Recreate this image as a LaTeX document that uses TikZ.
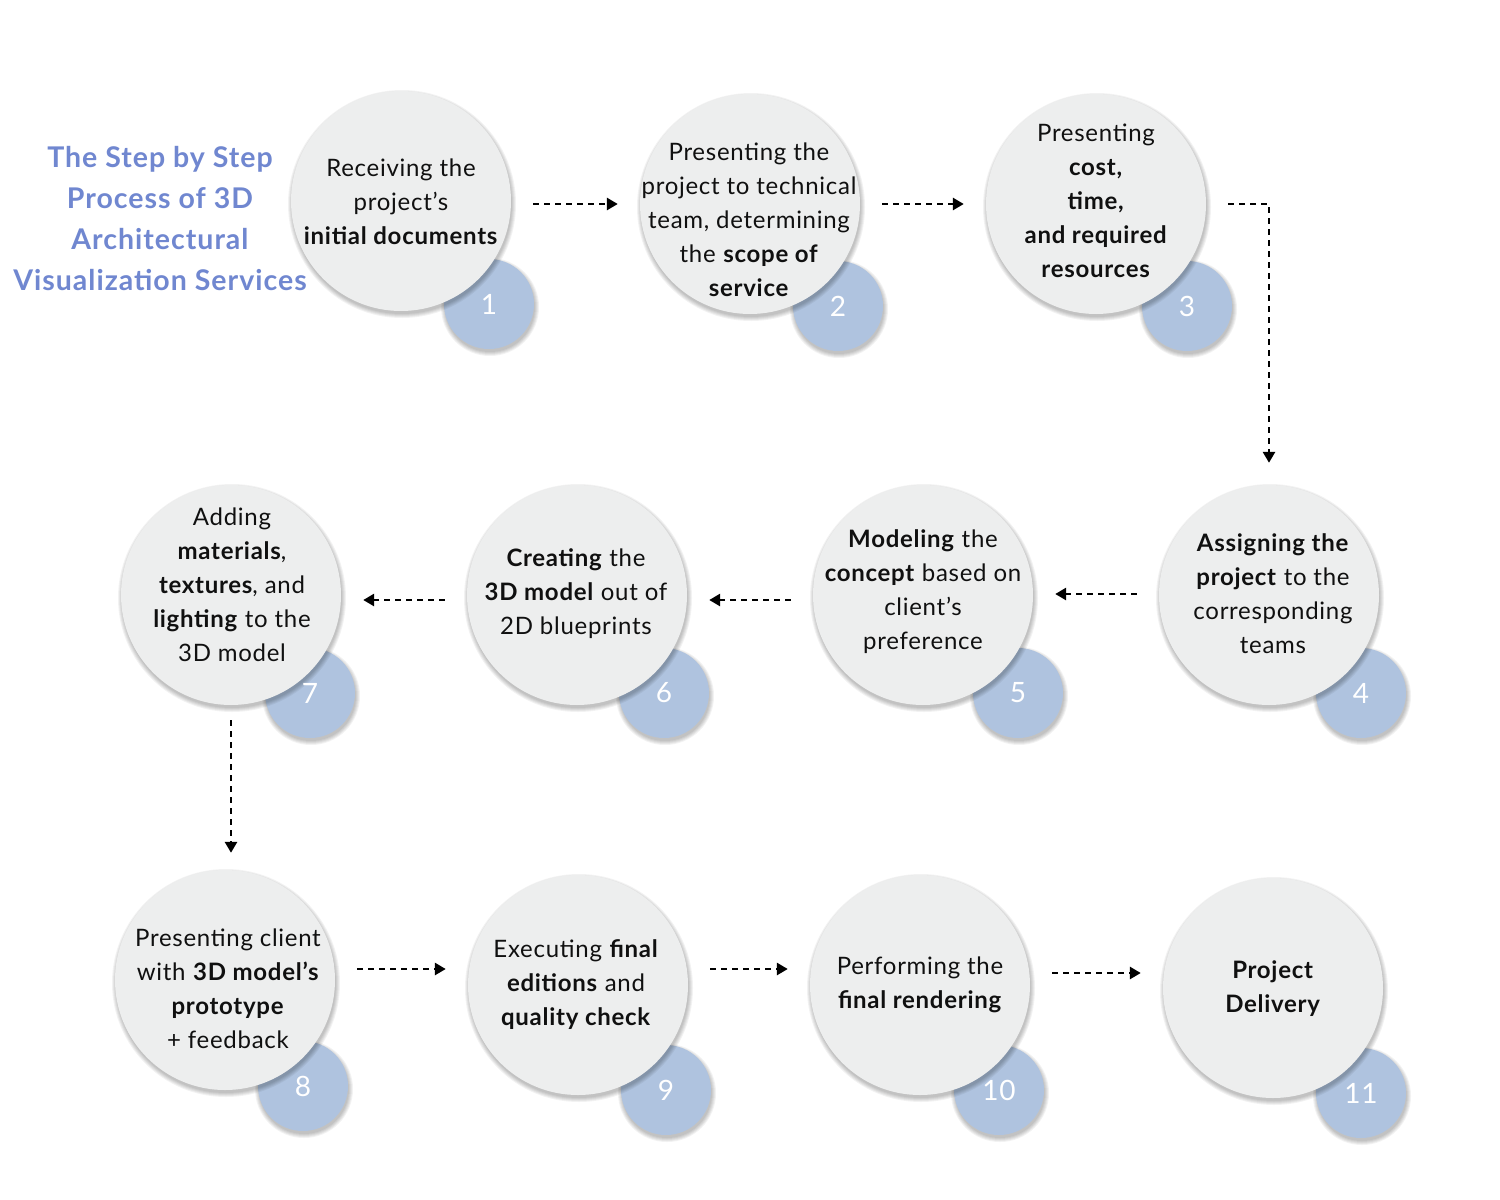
\documentclass[tikz,border=0pt]{standalone}
\usepackage{fontspec}
\setmainfont{Lato}
\usetikzlibrary{arrows.meta}
\definecolor{bubble}{HTML}{EDEEEE}
\definecolor{numc}{HTML}{AFC3DF}
\definecolor{titlec}{HTML}{7087D0}
\definecolor{inkc}{HTML}{101010}
\newcommand\softshadow[3]{%
  \foreach \dd in {4,3,2,1,0}{\fill[black,opacity=0.05] (#1+1,#2+3) circle ({#3+\dd pt});}}
\tikzset{
  big/.style={circle, fill=bubble, minimum size=220pt, inner sep=0pt},
  num/.style={circle, fill=numc, minimum size=90pt, inner sep=0pt},
  numtxt/.style={text=white, font=\fontsize{28}{28}\selectfont\addfontfeatures{LetterSpace=3}},
  txt/.style={align=center, font=\fontsize{24}{34}\selectfont\addfontfeatures{LetterSpace=3}, text=inkc},
  ttl/.style={align=center, font=\fontsize{28.5}{41}\selectfont\bfseries\addfontfeatures{LetterSpace=3.5}, text=titlec},
  flow/.style={draw=black, line width=2.8pt, dash pattern=on 6pt off 5pt, -{Triangle[length=11pt,width=12pt]}, shorten <=22pt, shorten >=22pt},
}
\begin{document}
\begin{tikzpicture}[x=1pt,y=-1pt]
\useasboundingbox (0,0) rectangle (1500,1200);
\fill[white] (0,0) rectangle (1500,1200);

% number bubbles
\foreach \nm/\x/\y in {1/489/304, 2/838/306, 3/1187/306, 4/1361/693, 5/1018/693, 6/664/693, 7/310/693, 8/303/1086, 9/666/1090, 10/999/1090, 11/1361/1093}{
  \softshadow{\x}{\y}{45pt}
  \node[num] (n\nm) at (\x,\y) {};
}

% main bubbles
\foreach \nm/\x/\y in {1/401/201, 2/750/204, 3/1096/204, 4/1269/595, 5/923/595, 6/577/595, 7/231/595, 8/225/980, 9/578/985, 10/920/985, 11/1273/988}{
  \softshadow{\x}{\y}{110pt}
  \node[big] (c\nm) at (\x,\y) {};
}
% step numbers
\foreach \nm in {1,...,11}{\node[numtxt] (k\nm) at (n\nm.center) {\nm};}

% texts
\node[txt] (t1) at (401,202) {Receiving the\\project’s\\\textbf{initial documents}};
\node[txt] (t2) at (749,220) {Presenting the\\project to technical\\team, determining\\the \textbf{scope of}\\\textbf{service}};
\node[txt] (t3) at (1096,201) {Presenting\\\textbf{cost,}\\\textbf{time,}\\\textbf{and required}\\\textbf{resources}};
\node[txt] (t4) at (1273,594) {\textbf{Assigning the}\\\textbf{project} to the\\corresponding\\teams};
\node[txt] (t5) at (923,592) {\textbf{Modeling} the\\\textbf{concept} based on\\client’s\\preference};
\node[txt] (t6) at (576,594) {\textbf{Creating} the\\\textbf{3D model} out of\\2D blueprints};
\node[txt] (t7) at (232,585) {Adding\\\textbf{materials},\\\textbf{textures}, and\\\textbf{lighting} to the\\3D model};
\node[txt] (t8) at (228,989) {Presenting client\\with \textbf{3D model’s}\\\textbf{prototype}\\+ feedback};
\node[txt] (t9) at (576,985) {Executing \textbf{final}\\\textbf{editions} and\\\textbf{quality check}};
\node[txt] (t10) at (920,985) {Performing the\\\textbf{final rendering}};
\node[txt] (t11) at (1273,989) {\textbf{Project}\\\textbf{Delivery}};

% title
\node[ttl] (title) at (160,219) {The Step by Step\\Process of 3D\\Architectural\\Visualization Services};

% connectors
\draw[flow] ([yshift=-3pt]c1.east) -- (c2.west);
\draw[flow] (c2.east) -- (c3.west);
\draw[flow] (c3.east) -| (c4.north);
\draw[flow] ([yshift=1pt]c4.west) -- ([yshift=1pt]c5.east);
\draw[flow] ([yshift=-5pt]c5.west) -- ([yshift=-5pt]c6.east);
\draw[flow] ([yshift=-5pt]c6.west) -- ([yshift=-5pt]c7.east);
\draw[flow, shorten <=15pt, shorten >=17pt] (c7.south) -- (c7.south |- c8.north);
\draw[flow] ([yshift=11pt]c8.east) -- ([yshift=16pt]c9.west);
\draw[flow] ([yshift=16pt]c9.east) -- ([yshift=16pt]c10.west);
\draw[flow] ([yshift=12pt]c10.east) -- ([yshift=15pt]c11.west);
\end{tikzpicture}
\end{document}
